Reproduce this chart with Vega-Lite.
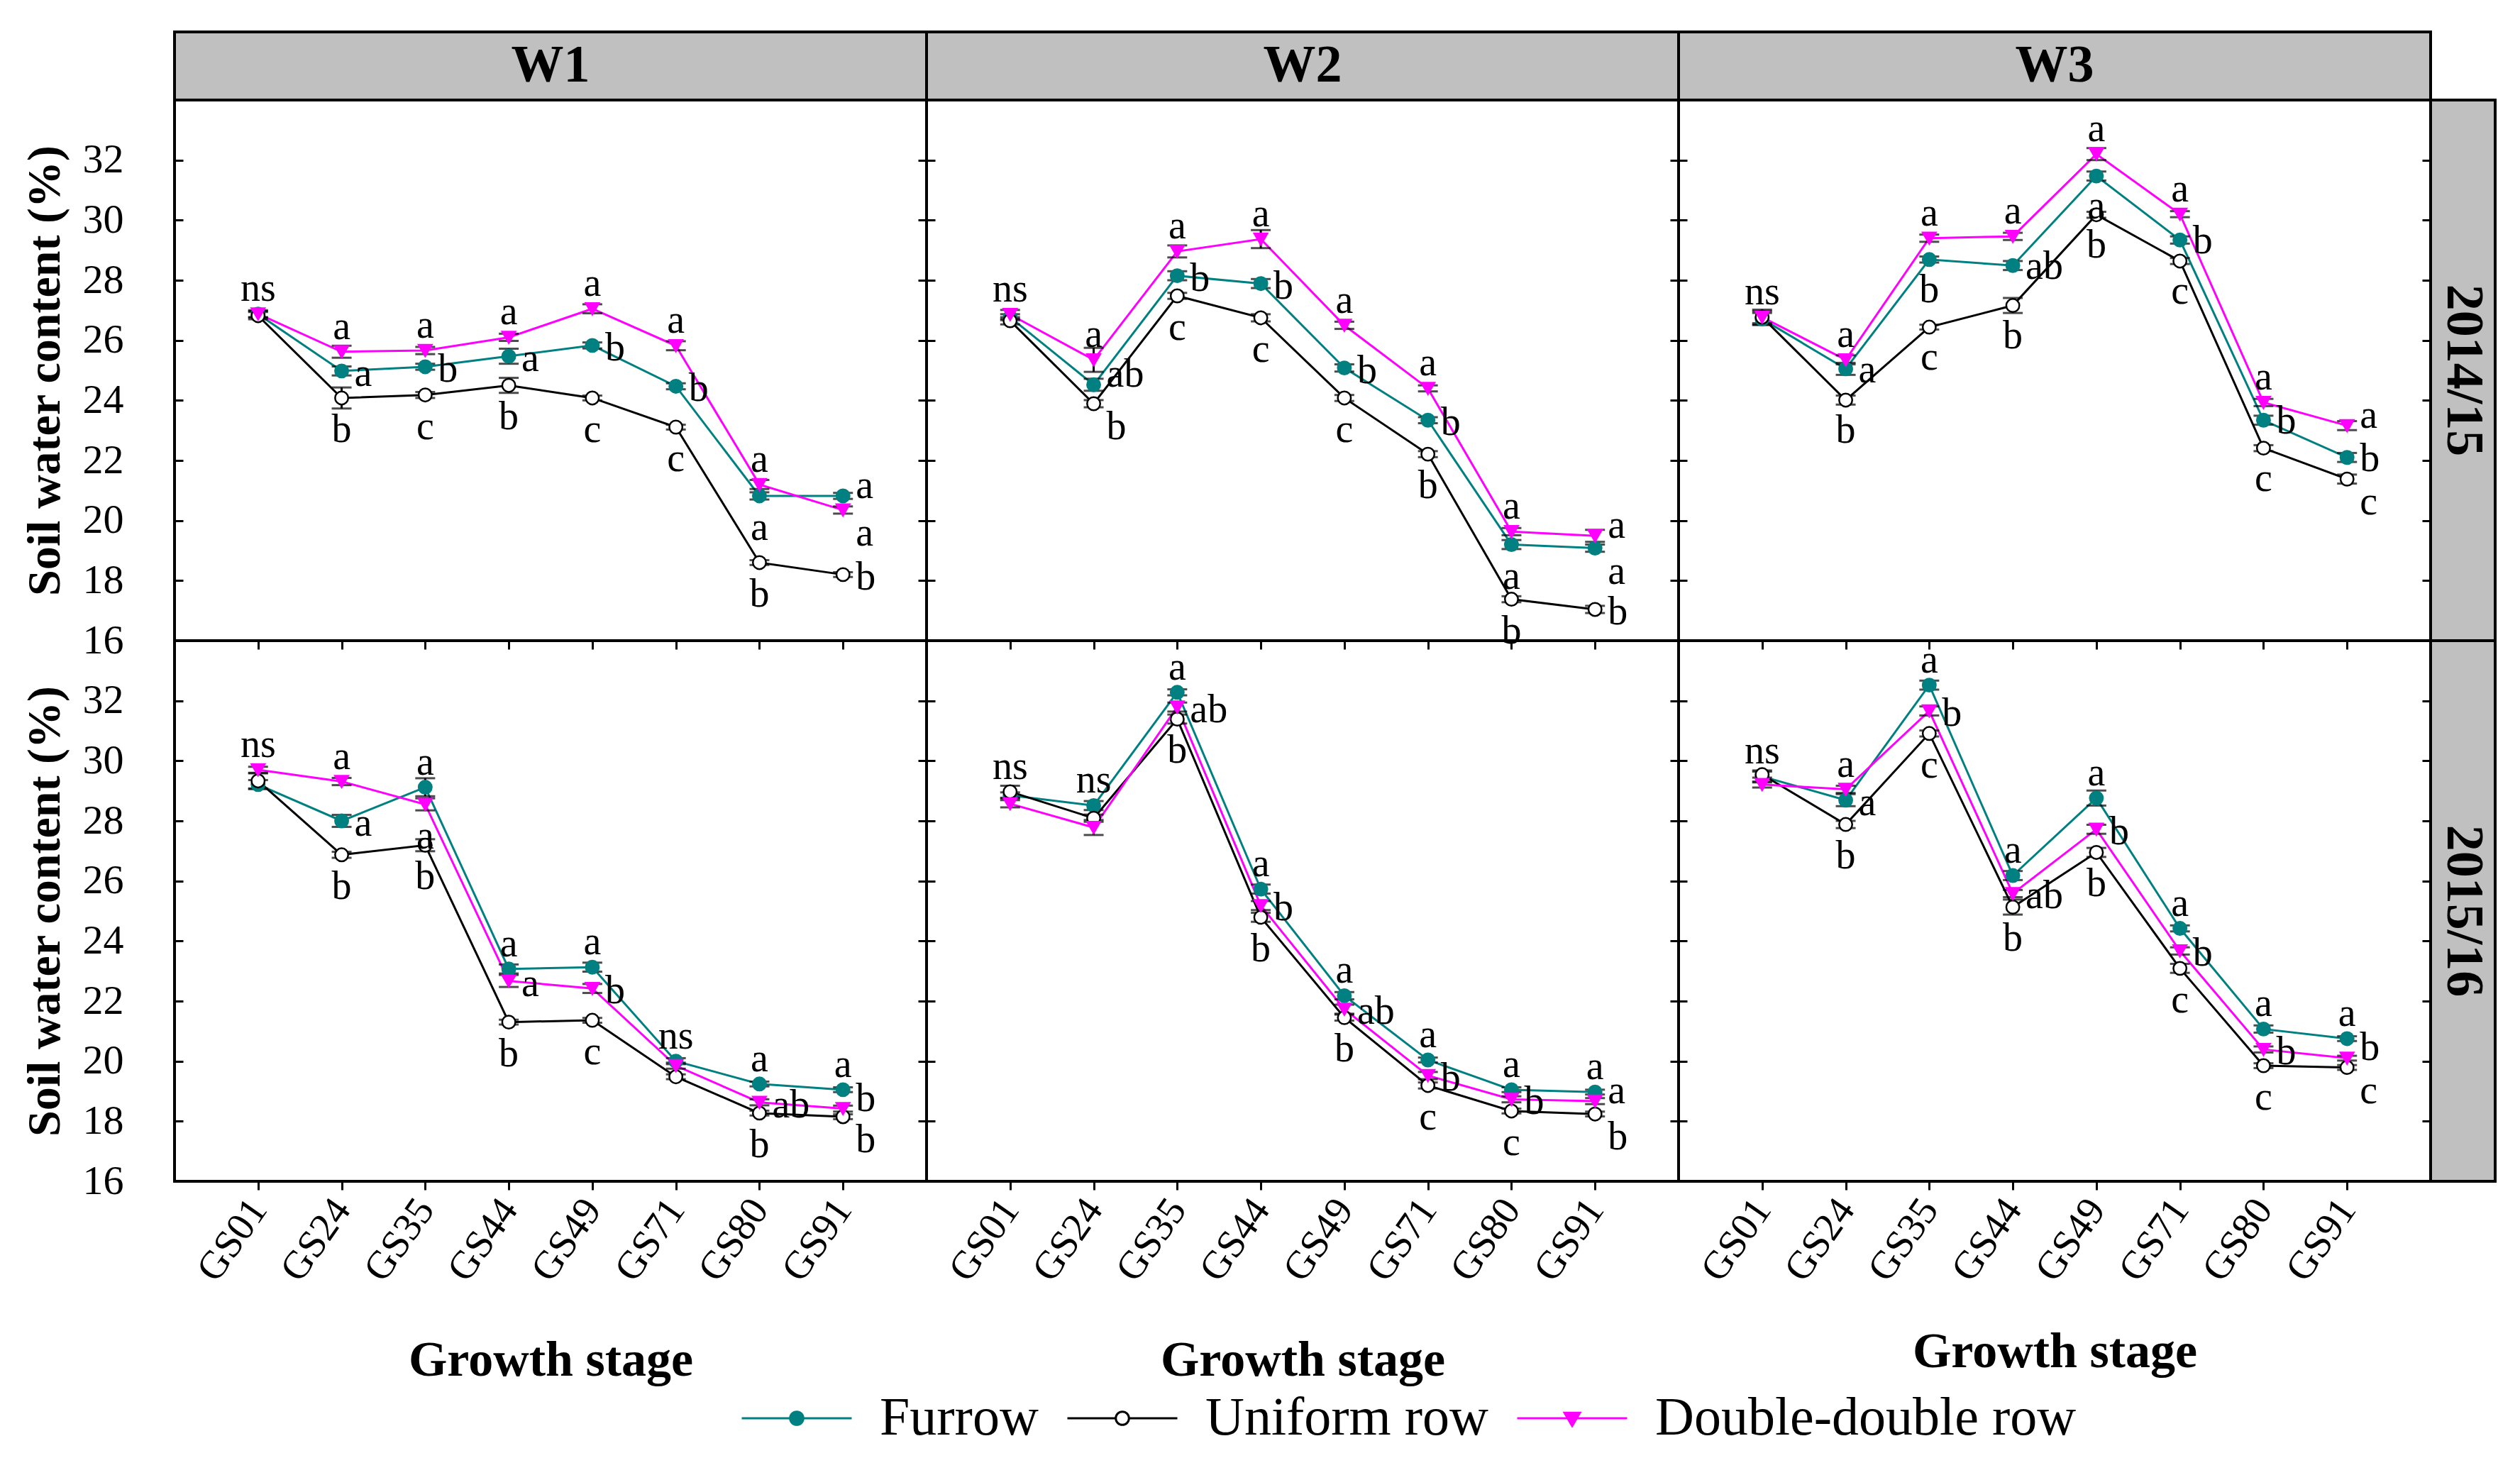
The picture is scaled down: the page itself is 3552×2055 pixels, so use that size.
{
"$schema": "https://vega.github.io/schema/vega-lite/v6.json",
"background": "white",
"padding": {"left": 28, "top": 43, "right": 10, "bottom": 10},
"bounds": "flush",
"spacing": 0,
"align": "each",
"columns": 4,
"config": {"font": "Liberation Serif", "view": {"stroke": "black", "strokeWidth": 4}, "axis": {"labelFont": "Liberation Serif", "titleFont": "Liberation Serif"}, "legend": {"labelFont": "Liberation Serif"}, "text": {"font": "Liberation Serif"}},
"datasets": {"swc": [
{"W":"W1","Y":"2014/15","G":"GS01","S":"Furrow","v":26.87,"e":0.1,"l":"","p":""},
{"W":"W1","Y":"2014/15","G":"GS01","S":"Uniform row","v":26.82,"e":0.12,"l":"","p":""},
{"W":"W1","Y":"2014/15","G":"GS01","S":"Double-double row","v":26.88,"e":0.12,"l":"ns","p":"t"},
{"W":"W1","Y":"2014/15","G":"GS24","S":"Furrow","v":24.98,"e":0.15,"l":"a","p":"r"},
{"W":"W1","Y":"2014/15","G":"GS24","S":"Uniform row","v":24.08,"e":0.35,"l":"b","p":"b"},
{"W":"W1","Y":"2014/15","G":"GS24","S":"Double-double row","v":25.62,"e":0.2,"l":"a","p":"t"},
{"W":"W1","Y":"2014/15","G":"GS35","S":"Furrow","v":25.12,"e":0.1,"l":"b","p":"r"},
{"W":"W1","Y":"2014/15","G":"GS35","S":"Uniform row","v":24.18,"e":0.1,"l":"c","p":"b"},
{"W":"W1","Y":"2014/15","G":"GS35","S":"Double-double row","v":25.66,"e":0.12,"l":"a","p":"t"},
{"W":"W1","Y":"2014/15","G":"GS44","S":"Furrow","v":25.47,"e":0.25,"l":"a","p":"r"},
{"W":"W1","Y":"2014/15","G":"GS44","S":"Uniform row","v":24.5,"e":0.25,"l":"b","p":"b"},
{"W":"W1","Y":"2014/15","G":"GS44","S":"Double-double row","v":26.1,"e":0.12,"l":"a","p":"t"},
{"W":"W1","Y":"2014/15","G":"GS49","S":"Furrow","v":25.83,"e":0.1,"l":"b","p":"r"},
{"W":"W1","Y":"2014/15","G":"GS49","S":"Uniform row","v":24.08,"e":0.08,"l":"c","p":"b"},
{"W":"W1","Y":"2014/15","G":"GS49","S":"Double-double row","v":27.05,"e":0.15,"l":"a","p":"t"},
{"W":"W1","Y":"2014/15","G":"GS71","S":"Furrow","v":24.47,"e":0.1,"l":"b","p":"r"},
{"W":"W1","Y":"2014/15","G":"GS71","S":"Uniform row","v":23.11,"e":0.08,"l":"c","p":"b"},
{"W":"W1","Y":"2014/15","G":"GS71","S":"Double-double row","v":25.82,"e":0.15,"l":"a","p":"t"},
{"W":"W1","Y":"2014/15","G":"GS80","S":"Furrow","v":20.82,"e":0.12,"l":"a","p":"b"},
{"W":"W1","Y":"2014/15","G":"GS80","S":"Uniform row","v":18.6,"e":0.08,"l":"b","p":"b"},
{"W":"W1","Y":"2014/15","G":"GS80","S":"Double-double row","v":21.2,"e":0.15,"l":"a","p":"t"},
{"W":"W1","Y":"2014/15","G":"GS91","S":"Furrow","v":20.82,"e":0.1,"l":"a","p":"ru"},
{"W":"W1","Y":"2014/15","G":"GS91","S":"Uniform row","v":18.2,"e":0.08,"l":"b","p":"r"},
{"W":"W1","Y":"2014/15","G":"GS91","S":"Double-double row","v":20.35,"e":0.12,"l":"a","p":"rd"},
{"W":"W2","Y":"2014/15","G":"GS01","S":"Furrow","v":26.77,"e":0.1,"l":"","p":""},
{"W":"W2","Y":"2014/15","G":"GS01","S":"Uniform row","v":26.65,"e":0.12,"l":"","p":""},
{"W":"W2","Y":"2014/15","G":"GS01","S":"Double-double row","v":26.86,"e":0.15,"l":"ns","p":"t"},
{"W":"W2","Y":"2014/15","G":"GS24","S":"Furrow","v":24.52,"e":0.2,"l":"ab","p":"ru"},
{"W":"W2","Y":"2014/15","G":"GS24","S":"Uniform row","v":23.89,"e":0.12,"l":"b","p":"rd"},
{"W":"W2","Y":"2014/15","G":"GS24","S":"Double-double row","v":25.35,"e":0.4,"l":"a","p":"t"},
{"W":"W2","Y":"2014/15","G":"GS35","S":"Furrow","v":28.15,"e":0.15,"l":"b","p":"r"},
{"W":"W2","Y":"2014/15","G":"GS35","S":"Uniform row","v":27.48,"e":0.1,"l":"c","p":"b"},
{"W":"W2","Y":"2014/15","G":"GS35","S":"Double-double row","v":28.96,"e":0.2,"l":"a","p":"t"},
{"W":"W2","Y":"2014/15","G":"GS44","S":"Furrow","v":27.89,"e":0.15,"l":"b","p":"r"},
{"W":"W2","Y":"2014/15","G":"GS44","S":"Uniform row","v":26.75,"e":0.12,"l":"c","p":"b"},
{"W":"W2","Y":"2014/15","G":"GS44","S":"Double-double row","v":29.37,"e":0.3,"l":"a","p":"t"},
{"W":"W2","Y":"2014/15","G":"GS49","S":"Furrow","v":25.08,"e":0.12,"l":"b","p":"r"},
{"W":"W2","Y":"2014/15","G":"GS49","S":"Uniform row","v":24.08,"e":0.1,"l":"c","p":"b"},
{"W":"W2","Y":"2014/15","G":"GS49","S":"Double-double row","v":26.5,"e":0.12,"l":"a","p":"t"},
{"W":"W2","Y":"2014/15","G":"GS71","S":"Furrow","v":23.34,"e":0.1,"l":"b","p":"r"},
{"W":"W2","Y":"2014/15","G":"GS71","S":"Uniform row","v":22.21,"e":0.1,"l":"b","p":"b"},
{"W":"W2","Y":"2014/15","G":"GS71","S":"Double-double row","v":24.4,"e":0.1,"l":"a","p":"t"},
{"W":"W2","Y":"2014/15","G":"GS80","S":"Furrow","v":19.2,"e":0.15,"l":"a","p":"b"},
{"W":"W2","Y":"2014/15","G":"GS80","S":"Uniform row","v":17.38,"e":0.1,"l":"b","p":"b"},
{"W":"W2","Y":"2014/15","G":"GS80","S":"Double-double row","v":19.63,"e":0.12,"l":"a","p":"t"},
{"W":"W2","Y":"2014/15","G":"GS91","S":"Furrow","v":19.08,"e":0.12,"l":"a","p":"rd"},
{"W":"W2","Y":"2014/15","G":"GS91","S":"Uniform row","v":17.04,"e":0.12,"l":"b","p":"r"},
{"W":"W2","Y":"2014/15","G":"GS91","S":"Double-double row","v":19.49,"e":0.2,"l":"a","p":"ru"},
{"W":"W3","Y":"2014/15","G":"GS01","S":"Furrow","v":26.71,"e":0.2,"l":"","p":""},
{"W":"W3","Y":"2014/15","G":"GS01","S":"Uniform row","v":26.77,"e":0.25,"l":"","p":""},
{"W":"W3","Y":"2014/15","G":"GS01","S":"Double-double row","v":26.77,"e":0.2,"l":"ns","p":"t"},
{"W":"W3","Y":"2014/15","G":"GS24","S":"Furrow","v":25.05,"e":0.2,"l":"a","p":"r"},
{"W":"W3","Y":"2014/15","G":"GS24","S":"Uniform row","v":24.01,"e":0.15,"l":"b","p":"b"},
{"W":"W3","Y":"2014/15","G":"GS24","S":"Double-double row","v":25.35,"e":0.15,"l":"a","p":"t"},
{"W":"W3","Y":"2014/15","G":"GS35","S":"Furrow","v":28.69,"e":0.1,"l":"b","p":"b"},
{"W":"W3","Y":"2014/15","G":"GS35","S":"Uniform row","v":26.44,"e":0.08,"l":"c","p":"b"},
{"W":"W3","Y":"2014/15","G":"GS35","S":"Double-double row","v":29.4,"e":0.12,"l":"a","p":"t"},
{"W":"W3","Y":"2014/15","G":"GS44","S":"Furrow","v":28.49,"e":0.15,"l":"ab","p":"r"},
{"W":"W3","Y":"2014/15","G":"GS44","S":"Uniform row","v":27.16,"e":0.25,"l":"b","p":"b"},
{"W":"W3","Y":"2014/15","G":"GS44","S":"Double-double row","v":29.46,"e":0.12,"l":"a","p":"t"},
{"W":"W3","Y":"2014/15","G":"GS49","S":"Furrow","v":31.47,"e":0.15,"l":"a","p":"b"},
{"W":"W3","Y":"2014/15","G":"GS49","S":"Uniform row","v":30.18,"e":0.1,"l":"b","p":"b"},
{"W":"W3","Y":"2014/15","G":"GS49","S":"Double-double row","v":32.2,"e":0.2,"l":"a","p":"t"},
{"W":"W3","Y":"2014/15","G":"GS71","S":"Furrow","v":29.34,"e":0.12,"l":"b","p":"r"},
{"W":"W3","Y":"2014/15","G":"GS71","S":"Uniform row","v":28.64,"e":0.1,"l":"c","p":"b"},
{"W":"W3","Y":"2014/15","G":"GS71","S":"Double-double row","v":30.2,"e":0.1,"l":"a","p":"t"},
{"W":"W3","Y":"2014/15","G":"GS80","S":"Furrow","v":23.34,"e":0.15,"l":"b","p":"r"},
{"W":"W3","Y":"2014/15","G":"GS80","S":"Uniform row","v":22.41,"e":0.1,"l":"c","p":"b"},
{"W":"W3","Y":"2014/15","G":"GS80","S":"Double-double row","v":23.93,"e":0.12,"l":"a","p":"t"},
{"W":"W3","Y":"2014/15","G":"GS91","S":"Furrow","v":22.1,"e":0.15,"l":"b","p":"r"},
{"W":"W3","Y":"2014/15","G":"GS91","S":"Uniform row","v":21.38,"e":0.15,"l":"c","p":"rd"},
{"W":"W3","Y":"2014/15","G":"GS91","S":"Double-double row","v":23.16,"e":0.15,"l":"a","p":"ru"},
{"W":"W1","Y":"2015/16","G":"GS01","S":"Furrow","v":29.21,"e":0.15,"l":"","p":""},
{"W":"W1","Y":"2015/16","G":"GS01","S":"Uniform row","v":29.33,"e":0.25,"l":"","p":""},
{"W":"W1","Y":"2015/16","G":"GS01","S":"Double-double row","v":29.7,"e":0.1,"l":"ns","p":"t"},
{"W":"W1","Y":"2015/16","G":"GS24","S":"Furrow","v":28.0,"e":0.2,"l":"a","p":"r"},
{"W":"W1","Y":"2015/16","G":"GS24","S":"Uniform row","v":26.87,"e":0.1,"l":"b","p":"b"},
{"W":"W1","Y":"2015/16","G":"GS24","S":"Double-double row","v":29.31,"e":0.12,"l":"a","p":"t"},
{"W":"W1","Y":"2015/16","G":"GS35","S":"Furrow","v":29.12,"e":0.3,"l":"a","p":"t"},
{"W":"W1","Y":"2015/16","G":"GS35","S":"Uniform row","v":27.19,"e":0.2,"l":"b","p":"b"},
{"W":"W1","Y":"2015/16","G":"GS35","S":"Double-double row","v":28.55,"e":0.2,"l":"a","p":"b"},
{"W":"W1","Y":"2015/16","G":"GS44","S":"Furrow","v":23.07,"e":0.15,"l":"a","p":"t"},
{"W":"W1","Y":"2015/16","G":"GS44","S":"Uniform row","v":21.3,"e":0.08,"l":"b","p":"b"},
{"W":"W1","Y":"2015/16","G":"GS44","S":"Double-double row","v":22.67,"e":0.2,"l":"a","p":"r"},
{"W":"W1","Y":"2015/16","G":"GS49","S":"Furrow","v":23.13,"e":0.15,"l":"a","p":"t"},
{"W":"W1","Y":"2015/16","G":"GS49","S":"Uniform row","v":21.36,"e":0.08,"l":"c","p":"b"},
{"W":"W1","Y":"2015/16","G":"GS49","S":"Double-double row","v":22.42,"e":0.15,"l":"b","p":"r"},
{"W":"W1","Y":"2015/16","G":"GS71","S":"Furrow","v":20.0,"e":0.1,"l":"ns","p":"t"},
{"W":"W1","Y":"2015/16","G":"GS71","S":"Uniform row","v":19.48,"e":0.08,"l":"","p":""},
{"W":"W1","Y":"2015/16","G":"GS71","S":"Double-double row","v":19.85,"e":0.1,"l":"","p":""},
{"W":"W1","Y":"2015/16","G":"GS80","S":"Furrow","v":19.24,"e":0.08,"l":"a","p":"t"},
{"W":"W1","Y":"2015/16","G":"GS80","S":"Uniform row","v":18.27,"e":0.08,"l":"b","p":"b"},
{"W":"W1","Y":"2015/16","G":"GS80","S":"Double-double row","v":18.63,"e":0.1,"l":"ab","p":"r"},
{"W":"W1","Y":"2015/16","G":"GS91","S":"Furrow","v":19.05,"e":0.08,"l":"a","p":"t"},
{"W":"W1","Y":"2015/16","G":"GS91","S":"Uniform row","v":18.15,"e":0.08,"l":"b","p":"rd"},
{"W":"W1","Y":"2015/16","G":"GS91","S":"Double-double row","v":18.42,"e":0.1,"l":"b","p":"ru"},
{"W":"W2","Y":"2015/16","G":"GS01","S":"Furrow","v":28.85,"e":0.1,"l":"","p":""},
{"W":"W2","Y":"2015/16","G":"GS01","S":"Uniform row","v":28.97,"e":0.2,"l":"ns","p":"t"},
{"W":"W2","Y":"2015/16","G":"GS01","S":"Double-double row","v":28.57,"e":0.12,"l":"","p":""},
{"W":"W2","Y":"2015/16","G":"GS24","S":"Furrow","v":28.51,"e":0.15,"l":"ns","p":"t"},
{"W":"W2","Y":"2015/16","G":"GS24","S":"Uniform row","v":28.09,"e":0.12,"l":"","p":""},
{"W":"W2","Y":"2015/16","G":"GS24","S":"Double-double row","v":27.78,"e":0.25,"l":"","p":""},
{"W":"W2","Y":"2015/16","G":"GS35","S":"Furrow","v":32.28,"e":0.1,"l":"a","p":"t"},
{"W":"W2","Y":"2015/16","G":"GS35","S":"Uniform row","v":31.39,"e":0.15,"l":"b","p":"b"},
{"W":"W2","Y":"2015/16","G":"GS35","S":"Double-double row","v":31.79,"e":0.15,"l":"ab","p":"r"},
{"W":"W2","Y":"2015/16","G":"GS44","S":"Furrow","v":25.73,"e":0.15,"l":"a","p":"t"},
{"W":"W2","Y":"2015/16","G":"GS44","S":"Uniform row","v":24.79,"e":0.15,"l":"b","p":"b"},
{"W":"W2","Y":"2015/16","G":"GS44","S":"Double-double row","v":25.18,"e":0.15,"l":"b","p":"r"},
{"W":"W2","Y":"2015/16","G":"GS49","S":"Furrow","v":22.18,"e":0.12,"l":"a","p":"t"},
{"W":"W2","Y":"2015/16","G":"GS49","S":"Uniform row","v":21.45,"e":0.1,"l":"b","p":"b"},
{"W":"W2","Y":"2015/16","G":"GS49","S":"Double-double row","v":21.73,"e":0.15,"l":"ab","p":"r"},
{"W":"W2","Y":"2015/16","G":"GS71","S":"Furrow","v":20.04,"e":0.08,"l":"a","p":"t"},
{"W":"W2","Y":"2015/16","G":"GS71","S":"Uniform row","v":19.19,"e":0.1,"l":"c","p":"b"},
{"W":"W2","Y":"2015/16","G":"GS71","S":"Double-double row","v":19.52,"e":0.12,"l":"b","p":"r"},
{"W":"W2","Y":"2015/16","G":"GS80","S":"Furrow","v":19.05,"e":0.08,"l":"a","p":"t"},
{"W":"W2","Y":"2015/16","G":"GS80","S":"Uniform row","v":18.34,"e":0.08,"l":"c","p":"b"},
{"W":"W2","Y":"2015/16","G":"GS80","S":"Double-double row","v":18.73,"e":0.1,"l":"b","p":"r"},
{"W":"W2","Y":"2015/16","G":"GS91","S":"Furrow","v":18.97,"e":0.08,"l":"a","p":"t"},
{"W":"W2","Y":"2015/16","G":"GS91","S":"Uniform row","v":18.24,"e":0.08,"l":"b","p":"rd"},
{"W":"W2","Y":"2015/16","G":"GS91","S":"Double-double row","v":18.67,"e":0.1,"l":"a","p":"ru"},
{"W":"W3","Y":"2015/16","G":"GS01","S":"Furrow","v":29.48,"e":0.2,"l":"ns","p":"t"},
{"W":"W3","Y":"2015/16","G":"GS01","S":"Uniform row","v":29.54,"e":0.1,"l":"","p":""},
{"W":"W3","Y":"2015/16","G":"GS01","S":"Double-double row","v":29.21,"e":0.1,"l":"","p":""},
{"W":"W3","Y":"2015/16","G":"GS24","S":"Furrow","v":28.69,"e":0.2,"l":"a","p":"r"},
{"W":"W3","Y":"2015/16","G":"GS24","S":"Uniform row","v":27.88,"e":0.12,"l":"b","p":"b"},
{"W":"W3","Y":"2015/16","G":"GS24","S":"Double-double row","v":29.05,"e":0.12,"l":"a","p":"t"},
{"W":"W3","Y":"2015/16","G":"GS35","S":"Furrow","v":32.52,"e":0.15,"l":"a","p":"t"},
{"W":"W3","Y":"2015/16","G":"GS35","S":"Uniform row","v":30.91,"e":0.1,"l":"c","p":"b"},
{"W":"W3","Y":"2015/16","G":"GS35","S":"Double-double row","v":31.66,"e":0.15,"l":"b","p":"r"},
{"W":"W3","Y":"2015/16","G":"GS44","S":"Furrow","v":26.18,"e":0.15,"l":"a","p":"t"},
{"W":"W3","Y":"2015/16","G":"GS44","S":"Uniform row","v":25.13,"e":0.25,"l":"b","p":"b"},
{"W":"W3","Y":"2015/16","G":"GS44","S":"Double-double row","v":25.58,"e":0.12,"l":"ab","p":"r"},
{"W":"W3","Y":"2015/16","G":"GS49","S":"Furrow","v":28.76,"e":0.25,"l":"a","p":"t"},
{"W":"W3","Y":"2015/16","G":"GS49","S":"Uniform row","v":26.95,"e":0.15,"l":"b","p":"b"},
{"W":"W3","Y":"2015/16","G":"GS49","S":"Double-double row","v":27.72,"e":0.15,"l":"b","p":"r"},
{"W":"W3","Y":"2015/16","G":"GS71","S":"Furrow","v":24.42,"e":0.1,"l":"a","p":"t"},
{"W":"W3","Y":"2015/16","G":"GS71","S":"Uniform row","v":23.09,"e":0.15,"l":"c","p":"b"},
{"W":"W3","Y":"2015/16","G":"GS71","S":"Double-double row","v":23.67,"e":0.12,"l":"b","p":"r"},
{"W":"W3","Y":"2015/16","G":"GS80","S":"Furrow","v":21.07,"e":0.12,"l":"a","p":"t"},
{"W":"W3","Y":"2015/16","G":"GS80","S":"Uniform row","v":19.85,"e":0.08,"l":"c","p":"b"},
{"W":"W3","Y":"2015/16","G":"GS80","S":"Double-double row","v":20.39,"e":0.1,"l":"b","p":"r"},
{"W":"W3","Y":"2015/16","G":"GS91","S":"Furrow","v":20.75,"e":0.08,"l":"a","p":"t"},
{"W":"W3","Y":"2015/16","G":"GS91","S":"Uniform row","v":19.79,"e":0.08,"l":"c","p":"rd"},
{"W":"W3","Y":"2015/16","G":"GS91","S":"Double-double row","v":20.1,"e":0.08,"l":"b","p":"ru"}
]},
"concat": [
{"width":1060,"height":96,"data":{"values":[{"W":"W1"}]},"mark":{"type":"text","fontSize":74,"fontWeight":"bold","color":"black","baseline":"middle"},"encoding":{"text":{"field":"W","type":"nominal"}},"view":{"fill":"#c0c0c0","stroke":"black","strokeWidth":4}},
{"width":1060,"height":96,"data":{"values":[{"W":"W2"}]},"mark":{"type":"text","fontSize":74,"fontWeight":"bold","color":"black","baseline":"middle"},"encoding":{"text":{"field":"W","type":"nominal"}},"view":{"fill":"#c0c0c0","stroke":"black","strokeWidth":4}},
{"width":1060,"height":96,"data":{"values":[{"W":"W3"}]},"mark":{"type":"text","fontSize":74,"fontWeight":"bold","color":"black","baseline":"middle"},"encoding":{"text":{"field":"W","type":"nominal"}},"view":{"fill":"#c0c0c0","stroke":"black","strokeWidth":4}},
{"width":91,"height":96,"data":{"values":[{"k":""}]},"mark":{"type":"text"},"encoding":{"text":{"field":"k","type":"nominal"}},"view":{"stroke":null}},

{"width":1060,"height":762,"data":{"name":"swc"},"transform":[{"filter":"datum.W == 'W1' && datum.Y == '2014/15'"}],
 "encoding":{"x":{"field":"G","type":"nominal","scale":{"type":"point","padding":1,"domain":["GS01","GS24","GS35","GS44","GS49","GS71","GS80","GS91"]},"axis":{"domain":false,"grid":false,"labels":false,"tickSize":12,"tickWidth":3,"tickColor":"black","title":null}},
  "y":{"field":"v","type":"quantitative","scale":{"domain":[16,34],"nice":false,"zero":false},"axis":null}},
 "layer":[
  {"mark":{"type":"line","strokeWidth":3},"encoding":{"y":{"field":"v","type":"quantitative","scale":{"domain":[16,34],"nice":false,"zero":false},"axis":{"values":[16,18,20,22,24,26,28,30,32],"orient":"left","domain":false,"grid":false,"tickSize":-12,"tickWidth":3,"tickColor":"black","labelFontSize":58,"labelPadding":84,"labelColor":"black","title":"Soil water content (%)","titleFontSize":66,"titleFontWeight":"bold","titleColor":"black","titlePadding":19}},"stroke":{"field":"S","type":"nominal","scale":{"domain":["Furrow","Uniform row","Double-double row"],"range":["#008080","#000000","#ff00ff"]},"legend":null}}},
  {"mark":{"type":"errorbar","ticks":true,"size":28,"thickness":3,"color":"black"},"encoding":{"yError":{"field":"e"}}},
  {"mark":{"type":"point","filled":true,"opacity":1,"size":340,"strokeWidth":2.5},"encoding":{"y":{"field":"v","type":"quantitative","scale":{"domain":[16,34],"nice":false,"zero":false},"axis":{"values":[16,18,20,22,24,26,28,30,32],"orient":"right","domain":false,"grid":false,"labels":false,"tickSize":-12,"tickWidth":3,"tickColor":"black","title":null}},"shape":{"field":"S","type":"nominal","scale":{"domain":["Furrow","Uniform row","Double-double row"],"range":["circle","circle","triangle-down"]},"legend":null},"fill":{"field":"S","type":"nominal","scale":{"domain":["Furrow","Uniform row","Double-double row"],"range":["#008080","#ffffff","#ff00ff"]},"legend":null},"stroke":{"field":"S","type":"nominal","scale":{"domain":["Furrow","Uniform row","Double-double row"],"range":["#008080","#000000","#ff00ff"]},"legend":null}}},
  {"transform":[{"filter":"datum.p == 't'"}],"mark":{"type":"text","fontSize":56,"baseline":"alphabetic","dy":-18,"color":"black"},"encoding":{"text":{"field":"l","type":"nominal"}}},
  {"transform":[{"filter":"datum.p == 'b'"}],"mark":{"type":"text","fontSize":56,"baseline":"top","dy":18,"color":"black"},"encoding":{"text":{"field":"l","type":"nominal"}}},
  {"transform":[{"filter":"datum.p == 'r'"}],"mark":{"type":"text","fontSize":56,"align":"left","baseline":"middle","dx":18,"dy":4,"color":"black"},"encoding":{"text":{"field":"l","type":"nominal"}}},
  {"transform":[{"filter":"datum.p == 'ru'"}],"mark":{"type":"text","fontSize":56,"align":"left","baseline":"middle","dx":18,"dy":-14,"color":"black"},"encoding":{"text":{"field":"l","type":"nominal"}}},
  {"transform":[{"filter":"datum.p == 'rd'"}],"mark":{"type":"text","fontSize":56,"align":"left","baseline":"middle","dx":18,"dy":33,"color":"black"},"encoding":{"text":{"field":"l","type":"nominal"}}}
 ],
 "resolve":{"axis":{"y":"independent"}}},

{"width":1060,"height":762,"data":{"name":"swc"},"transform":[{"filter":"datum.W == 'W2' && datum.Y == '2014/15'"}],
 "encoding":{"x":{"field":"G","type":"nominal","scale":{"type":"point","padding":1,"domain":["GS01","GS24","GS35","GS44","GS49","GS71","GS80","GS91"]},"axis":{"domain":false,"grid":false,"labels":false,"tickSize":12,"tickWidth":3,"tickColor":"black","title":null}},
  "y":{"field":"v","type":"quantitative","scale":{"domain":[16,34],"nice":false,"zero":false},"axis":null}},
 "layer":[
  {"mark":{"type":"line","strokeWidth":3},"encoding":{"y":{"field":"v","type":"quantitative","scale":{"domain":[16,34],"nice":false,"zero":false},"axis":{"values":[16,18,20,22,24,26,28,30,32],"orient":"left","domain":false,"grid":false,"labels":false,"tickSize":-12,"tickWidth":3,"tickColor":"black","title":null}},"stroke":{"field":"S","type":"nominal","scale":{"domain":["Furrow","Uniform row","Double-double row"],"range":["#008080","#000000","#ff00ff"]},"legend":null}}},
  {"mark":{"type":"errorbar","ticks":true,"size":28,"thickness":3,"color":"black"},"encoding":{"yError":{"field":"e"}}},
  {"mark":{"type":"point","filled":true,"opacity":1,"size":340,"strokeWidth":2.5},"encoding":{"y":{"field":"v","type":"quantitative","scale":{"domain":[16,34],"nice":false,"zero":false},"axis":{"values":[16,18,20,22,24,26,28,30,32],"orient":"right","domain":false,"grid":false,"labels":false,"tickSize":-12,"tickWidth":3,"tickColor":"black","title":null}},"shape":{"field":"S","type":"nominal","scale":{"domain":["Furrow","Uniform row","Double-double row"],"range":["circle","circle","triangle-down"]},"legend":null},"fill":{"field":"S","type":"nominal","scale":{"domain":["Furrow","Uniform row","Double-double row"],"range":["#008080","#ffffff","#ff00ff"]},"legend":null},"stroke":{"field":"S","type":"nominal","scale":{"domain":["Furrow","Uniform row","Double-double row"],"range":["#008080","#000000","#ff00ff"]},"legend":null}}},
  {"transform":[{"filter":"datum.p == 't'"}],"mark":{"type":"text","fontSize":56,"baseline":"alphabetic","dy":-18,"color":"black"},"encoding":{"text":{"field":"l","type":"nominal"}}},
  {"transform":[{"filter":"datum.p == 'b'"}],"mark":{"type":"text","fontSize":56,"baseline":"top","dy":18,"color":"black"},"encoding":{"text":{"field":"l","type":"nominal"}}},
  {"transform":[{"filter":"datum.p == 'r'"}],"mark":{"type":"text","fontSize":56,"align":"left","baseline":"middle","dx":18,"dy":4,"color":"black"},"encoding":{"text":{"field":"l","type":"nominal"}}},
  {"transform":[{"filter":"datum.p == 'ru'"}],"mark":{"type":"text","fontSize":56,"align":"left","baseline":"middle","dx":18,"dy":-14,"color":"black"},"encoding":{"text":{"field":"l","type":"nominal"}}},
  {"transform":[{"filter":"datum.p == 'rd'"}],"mark":{"type":"text","fontSize":56,"align":"left","baseline":"middle","dx":18,"dy":33,"color":"black"},"encoding":{"text":{"field":"l","type":"nominal"}}}
 ],
 "resolve":{"axis":{"y":"independent"}}},

{"width":1060,"height":762,"data":{"name":"swc"},"transform":[{"filter":"datum.W == 'W3' && datum.Y == '2014/15'"}],
 "encoding":{"x":{"field":"G","type":"nominal","scale":{"type":"point","padding":1,"domain":["GS01","GS24","GS35","GS44","GS49","GS71","GS80","GS91"]},"axis":{"domain":false,"grid":false,"labels":false,"tickSize":12,"tickWidth":3,"tickColor":"black","title":null}},
  "y":{"field":"v","type":"quantitative","scale":{"domain":[16,34],"nice":false,"zero":false},"axis":null}},
 "layer":[
  {"mark":{"type":"line","strokeWidth":3},"encoding":{"y":{"field":"v","type":"quantitative","scale":{"domain":[16,34],"nice":false,"zero":false},"axis":{"values":[16,18,20,22,24,26,28,30,32],"orient":"left","domain":false,"grid":false,"labels":false,"tickSize":-12,"tickWidth":3,"tickColor":"black","title":null}},"stroke":{"field":"S","type":"nominal","scale":{"domain":["Furrow","Uniform row","Double-double row"],"range":["#008080","#000000","#ff00ff"]},"legend":null}}},
  {"mark":{"type":"errorbar","ticks":true,"size":28,"thickness":3,"color":"black"},"encoding":{"yError":{"field":"e"}}},
  {"mark":{"type":"point","filled":true,"opacity":1,"size":340,"strokeWidth":2.5},"encoding":{"y":{"field":"v","type":"quantitative","scale":{"domain":[16,34],"nice":false,"zero":false},"axis":{"values":[16,18,20,22,24,26,28,30,32],"orient":"right","domain":false,"grid":false,"labels":false,"tickSize":-12,"tickWidth":3,"tickColor":"black","title":null}},"shape":{"field":"S","type":"nominal","scale":{"domain":["Furrow","Uniform row","Double-double row"],"range":["circle","circle","triangle-down"]},"legend":null},"fill":{"field":"S","type":"nominal","scale":{"domain":["Furrow","Uniform row","Double-double row"],"range":["#008080","#ffffff","#ff00ff"]},"legend":null},"stroke":{"field":"S","type":"nominal","scale":{"domain":["Furrow","Uniform row","Double-double row"],"range":["#008080","#000000","#ff00ff"]},"legend":null}}},
  {"transform":[{"filter":"datum.p == 't'"}],"mark":{"type":"text","fontSize":56,"baseline":"alphabetic","dy":-18,"color":"black"},"encoding":{"text":{"field":"l","type":"nominal"}}},
  {"transform":[{"filter":"datum.p == 'b'"}],"mark":{"type":"text","fontSize":56,"baseline":"top","dy":16,"color":"black"},"encoding":{"text":{"field":"l","type":"nominal"}}},
  {"transform":[{"filter":"datum.p == 'r'"}],"mark":{"type":"text","fontSize":56,"align":"left","baseline":"middle","dx":18,"dy":2,"color":"black"},"encoding":{"text":{"field":"l","type":"nominal"}}},
  {"transform":[{"filter":"datum.p == 'ru'"}],"mark":{"type":"text","fontSize":56,"align":"left","baseline":"middle","dx":18,"dy":-14,"color":"black"},"encoding":{"text":{"field":"l","type":"nominal"}}},
  {"transform":[{"filter":"datum.p == 'rd'"}],"mark":{"type":"text","fontSize":56,"align":"left","baseline":"middle","dx":18,"dy":33,"color":"black"},"encoding":{"text":{"field":"l","type":"nominal"}}}
 ],
 "resolve":{"axis":{"y":"independent"}}},

{"width":91,"height":762,"data":{"values":[{"Y":"2014/15"}]},"mark":{"type":"text","fontSize":74,"fontWeight":"bold","angle":90,"color":"black","baseline":"middle"},"encoding":{"text":{"field":"Y","type":"nominal"}},"view":{"fill":"#c0c0c0","stroke":"black","strokeWidth":4}},

{"width":1060,"height":762,"data":{"name":"swc"},"transform":[{"filter":"datum.W == 'W1' && datum.Y == '2015/16'"}],
 "encoding":{"x":{"field":"G","type":"nominal","scale":{"type":"point","padding":1,"domain":["GS01","GS24","GS35","GS44","GS49","GS71","GS80","GS91"]},"axis":{"domain":false,"grid":false,"tickSize":12,"tickWidth":3,"tickColor":"black","labelAngle":-55,"labelAlign":"right","labelBaseline":"middle","labelFontSize":56,"labelPadding":18,"labelColor":"black","title":"Growth stage","titleFontSize":70,"titleFontWeight":"bold","titleColor":"black","titlePadding":68}},
  "y":{"field":"v","type":"quantitative","scale":{"domain":[16,34],"nice":false,"zero":false},"axis":null}},
 "layer":[
  {"mark":{"type":"line","strokeWidth":3},"encoding":{"y":{"field":"v","type":"quantitative","scale":{"domain":[16,34],"nice":false,"zero":false},"axis":{"values":[16,18,20,22,24,26,28,30,32],"orient":"left","domain":false,"grid":false,"tickSize":-12,"tickWidth":3,"tickColor":"black","labelFontSize":58,"labelPadding":84,"labelColor":"black","title":"Soil water content (%)","titleFontSize":66,"titleFontWeight":"bold","titleColor":"black","titlePadding":19}},"stroke":{"field":"S","type":"nominal","scale":{"domain":["Furrow","Uniform row","Double-double row"],"range":["#008080","#000000","#ff00ff"]},"legend":null}}},
  {"mark":{"type":"errorbar","ticks":true,"size":28,"thickness":3,"color":"black"},"encoding":{"yError":{"field":"e"}}},
  {"mark":{"type":"point","filled":true,"opacity":1,"size":340,"strokeWidth":2.5},"encoding":{"y":{"field":"v","type":"quantitative","scale":{"domain":[16,34],"nice":false,"zero":false},"axis":{"values":[16,18,20,22,24,26,28,30,32],"orient":"right","domain":false,"grid":false,"labels":false,"tickSize":-12,"tickWidth":3,"tickColor":"black","title":null}},"shape":{"field":"S","type":"nominal","scale":{"domain":["Furrow","Uniform row","Double-double row"],"range":["circle","circle","triangle-down"]},"legend":null},"fill":{"field":"S","type":"nominal","scale":{"domain":["Furrow","Uniform row","Double-double row"],"range":["#008080","#ffffff","#ff00ff"]},"legend":null},"stroke":{"field":"S","type":"nominal","scale":{"domain":["Furrow","Uniform row","Double-double row"],"range":["#008080","#000000","#ff00ff"]},"legend":null}}},
  {"transform":[{"filter":"datum.p == 't'"}],"mark":{"type":"text","fontSize":56,"baseline":"alphabetic","dy":-18,"color":"black"},"encoding":{"text":{"field":"l","type":"nominal"}}},
  {"transform":[{"filter":"datum.p == 'b'"}],"mark":{"type":"text","fontSize":56,"baseline":"top","dy":18,"color":"black"},"encoding":{"text":{"field":"l","type":"nominal"}}},
  {"transform":[{"filter":"datum.p == 'r'"}],"mark":{"type":"text","fontSize":56,"align":"left","baseline":"middle","dx":18,"dy":4,"color":"black"},"encoding":{"text":{"field":"l","type":"nominal"}}},
  {"transform":[{"filter":"datum.p == 'ru'"}],"mark":{"type":"text","fontSize":56,"align":"left","baseline":"middle","dx":18,"dy":-14,"color":"black"},"encoding":{"text":{"field":"l","type":"nominal"}}},
  {"transform":[{"filter":"datum.p == 'rd'"}],"mark":{"type":"text","fontSize":56,"align":"left","baseline":"middle","dx":18,"dy":33,"color":"black"},"encoding":{"text":{"field":"l","type":"nominal"}}}
 ],
 "resolve":{"axis":{"y":"independent"}}},

{"width":1060,"height":762,"data":{"name":"swc"},"transform":[{"filter":"datum.W == 'W2' && datum.Y == '2015/16'"}],
 "encoding":{"x":{"field":"G","type":"nominal","scale":{"type":"point","padding":1,"domain":["GS01","GS24","GS35","GS44","GS49","GS71","GS80","GS91"]},"axis":{"domain":false,"grid":false,"tickSize":12,"tickWidth":3,"tickColor":"black","labelAngle":-55,"labelAlign":"right","labelBaseline":"middle","labelFontSize":56,"labelPadding":18,"labelColor":"black","title":"Growth stage","titleFontSize":70,"titleFontWeight":"bold","titleColor":"black","titlePadding":68}},
  "y":{"field":"v","type":"quantitative","scale":{"domain":[16,34],"nice":false,"zero":false},"axis":null}},
 "layer":[
  {"mark":{"type":"line","strokeWidth":3},"encoding":{"y":{"field":"v","type":"quantitative","scale":{"domain":[16,34],"nice":false,"zero":false},"axis":{"values":[16,18,20,22,24,26,28,30,32],"orient":"left","domain":false,"grid":false,"labels":false,"tickSize":-12,"tickWidth":3,"tickColor":"black","title":null}},"stroke":{"field":"S","type":"nominal","scale":{"domain":["Furrow","Uniform row","Double-double row"],"range":["#008080","#000000","#ff00ff"]},"legend":null}}},
  {"mark":{"type":"errorbar","ticks":true,"size":28,"thickness":3,"color":"black"},"encoding":{"yError":{"field":"e"}}},
  {"mark":{"type":"point","filled":true,"opacity":1,"size":340,"strokeWidth":2.5},"encoding":{"y":{"field":"v","type":"quantitative","scale":{"domain":[16,34],"nice":false,"zero":false},"axis":{"values":[16,18,20,22,24,26,28,30,32],"orient":"right","domain":false,"grid":false,"labels":false,"tickSize":-12,"tickWidth":3,"tickColor":"black","title":null}},"shape":{"field":"S","type":"nominal","scale":{"domain":["Furrow","Uniform row","Double-double row"],"range":["circle","circle","triangle-down"]},"legend":null},"fill":{"field":"S","type":"nominal","scale":{"domain":["Furrow","Uniform row","Double-double row"],"range":["#008080","#ffffff","#ff00ff"]},"legend":null},"stroke":{"field":"S","type":"nominal","scale":{"domain":["Furrow","Uniform row","Double-double row"],"range":["#008080","#000000","#ff00ff"]},"legend":null}}},
  {"transform":[{"filter":"datum.p == 't'"}],"mark":{"type":"text","fontSize":56,"baseline":"alphabetic","dy":-18,"color":"black"},"encoding":{"text":{"field":"l","type":"nominal"}}},
  {"transform":[{"filter":"datum.p == 'b'"}],"mark":{"type":"text","fontSize":56,"baseline":"top","dy":18,"color":"black"},"encoding":{"text":{"field":"l","type":"nominal"}}},
  {"transform":[{"filter":"datum.p == 'r'"}],"mark":{"type":"text","fontSize":56,"align":"left","baseline":"middle","dx":18,"dy":4,"color":"black"},"encoding":{"text":{"field":"l","type":"nominal"}}},
  {"transform":[{"filter":"datum.p == 'ru'"}],"mark":{"type":"text","fontSize":56,"align":"left","baseline":"middle","dx":18,"dy":-14,"color":"black"},"encoding":{"text":{"field":"l","type":"nominal"}}},
  {"transform":[{"filter":"datum.p == 'rd'"}],"mark":{"type":"text","fontSize":56,"align":"left","baseline":"middle","dx":18,"dy":33,"color":"black"},"encoding":{"text":{"field":"l","type":"nominal"}}}
 ],
 "resolve":{"axis":{"y":"independent"}}},

{"width":1060,"height":762,"data":{"name":"swc"},"transform":[{"filter":"datum.W == 'W3' && datum.Y == '2015/16'"}],
 "encoding":{"x":{"field":"G","type":"nominal","scale":{"type":"point","padding":1,"domain":["GS01","GS24","GS35","GS44","GS49","GS71","GS80","GS91"]},"axis":{"domain":false,"grid":false,"tickSize":12,"tickWidth":3,"tickColor":"black","labelAngle":-55,"labelAlign":"right","labelBaseline":"middle","labelFontSize":56,"labelPadding":18,"labelColor":"black","title":"Growth stage","titleFontSize":70,"titleFontWeight":"bold","titleColor":"black","titlePadding":56}},
  "y":{"field":"v","type":"quantitative","scale":{"domain":[16,34],"nice":false,"zero":false},"axis":null}},
 "layer":[
  {"mark":{"type":"line","strokeWidth":3},"encoding":{"y":{"field":"v","type":"quantitative","scale":{"domain":[16,34],"nice":false,"zero":false},"axis":{"values":[16,18,20,22,24,26,28,30,32],"orient":"left","domain":false,"grid":false,"labels":false,"tickSize":-12,"tickWidth":3,"tickColor":"black","title":null}},"stroke":{"field":"S","type":"nominal","scale":{"domain":["Furrow","Uniform row","Double-double row"],"range":["#008080","#000000","#ff00ff"]},"legend":null}}},
  {"mark":{"type":"errorbar","ticks":true,"size":28,"thickness":3,"color":"black"},"encoding":{"yError":{"field":"e"}}},
  {"mark":{"type":"point","filled":true,"opacity":1,"size":340,"strokeWidth":2.5},"encoding":{"y":{"field":"v","type":"quantitative","scale":{"domain":[16,34],"nice":false,"zero":false},"axis":{"values":[16,18,20,22,24,26,28,30,32],"orient":"right","domain":false,"grid":false,"labels":false,"tickSize":-12,"tickWidth":3,"tickColor":"black","title":null}},"shape":{"field":"S","type":"nominal","scale":{"domain":["Furrow","Uniform row","Double-double row"],"range":["circle","circle","triangle-down"]},"legend":null},"fill":{"field":"S","type":"nominal","scale":{"domain":["Furrow","Uniform row","Double-double row"],"range":["#008080","#ffffff","#ff00ff"]},"legend":null},"stroke":{"field":"S","type":"nominal","scale":{"domain":["Furrow","Uniform row","Double-double row"],"range":["#008080","#000000","#ff00ff"]},"legend":null}}},
  {"transform":[{"filter":"datum.p == 't'"}],"mark":{"type":"text","fontSize":56,"baseline":"alphabetic","dy":-18,"color":"black"},"encoding":{"text":{"field":"l","type":"nominal"}}},
  {"transform":[{"filter":"datum.p == 'b'"}],"mark":{"type":"text","fontSize":56,"baseline":"top","dy":18,"color":"black"},"encoding":{"text":{"field":"l","type":"nominal"}}},
  {"transform":[{"filter":"datum.p == 'r'"}],"mark":{"type":"text","fontSize":56,"align":"left","baseline":"middle","dx":18,"dy":4,"color":"black"},"encoding":{"text":{"field":"l","type":"nominal"}}},
  {"transform":[{"filter":"datum.p == 'ru'"}],"mark":{"type":"text","fontSize":56,"align":"left","baseline":"middle","dx":18,"dy":-14,"color":"black"},"encoding":{"text":{"field":"l","type":"nominal"}}},
  {"transform":[{"filter":"datum.p == 'rd'"}],"mark":{"type":"text","fontSize":56,"align":"left","baseline":"middle","dx":18,"dy":33,"color":"black"},"encoding":{"text":{"field":"l","type":"nominal"}}},
  {"transform":[{"filter":"datum.v < 0"}],"mark":{"type":"point","filled":true,"opacity":1,"strokeWidth":3},"encoding":{
    "shape":{"field":"S","type":"nominal","scale":{"domain":["Furrow","Uniform row","Double-double row"],"range":["M-1,0H1M-0.12,0A0.12,0.12,0,1,0,0.12,0A0.12,0.12,0,1,0,-0.12,0Z","M-1,0H-0.12M0.12,0H1M-0.12,0A0.12,0.12,0,1,0,0.12,0A0.12,0.12,0,1,0,-0.12,0Z","M-1,0H1M-0.14,-0.1H0.14L0,0.14Z"]},"legend":{"title":null,"orient":"none","legendX":-1322,"legendY":1017,"direction":"horizontal","symbolSize":24025,"symbolStrokeWidth":3,"labelFontSize":76,"labelLimit":0,"labelColor":"black","labelOffset":38,"columnPadding":34,"padding":0}},
    "fill":{"field":"S","type":"nominal","scale":{"domain":["Furrow","Uniform row","Double-double row"],"range":["#008080","#ffffff","#ff00ff"]},"legend":{"title":null,"orient":"none","legendX":-1322,"legendY":1017,"direction":"horizontal","symbolSize":24025,"symbolStrokeWidth":3,"labelFontSize":76,"labelLimit":0,"labelColor":"black","labelOffset":38,"columnPadding":34,"padding":0}},
    "stroke":{"field":"S","type":"nominal","scale":{"domain":["Furrow","Uniform row","Double-double row"],"range":["#008080","#000000","#ff00ff"]},"legend":{"title":null,"orient":"none","legendX":-1322,"legendY":1017,"direction":"horizontal","symbolSize":24025,"symbolStrokeWidth":3,"labelFontSize":76,"labelLimit":0,"labelColor":"black","labelOffset":38,"columnPadding":34,"padding":0}}}}
 ],
 "resolve":{"axis":{"y":"independent"},"scale":{"shape":"independent","fill":"independent","stroke":"independent"}}},

{"width":91,"height":762,"data":{"values":[{"Y":"2015/16"}]},"mark":{"type":"text","fontSize":74,"fontWeight":"bold","angle":90,"color":"black","baseline":"middle"},"encoding":{"text":{"field":"Y","type":"nominal"}},"view":{"fill":"#c0c0c0","stroke":"black","strokeWidth":4}}
]
}
